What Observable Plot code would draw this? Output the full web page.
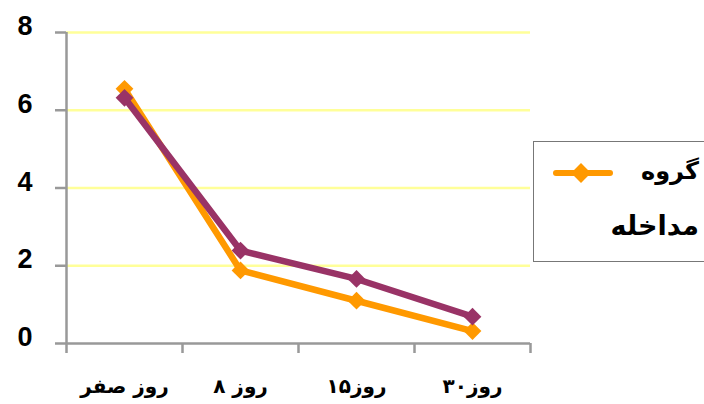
<!DOCTYPE html>
<html>
<head>
<meta charset="utf-8">
<script src="https://cdn.jsdelivr.net/npm/d3@7"></script>
<script src="https://cdn.jsdelivr.net/npm/@observablehq/plot@0.6"></script>
<style>
  html, body { margin: 0; padding: 0; background: #fff; }
  #wrap { position: relative; width: 704px; height: 404px; overflow: hidden; }
  #legend {
    position: absolute; left: 533px; top: 141px; width: 200px; height: 121px;
    border: 1px solid #777; box-sizing: border-box; background: #fff;
    font-family: "DejaVu Sans", sans-serif; font-weight: bold; color: #000;
  }
  #legend .swatch { position: absolute; left: 18px; top: 19px; }
  #legend .t1 { position: absolute; top: 14px; right: 33px; direction: rtl; line-height: 30px; font-size: 24px; }
  #legend .t2 { position: absolute; top: 68px; right: 33px; direction: rtl; line-height: 32px; font-size: 27px; }
</style>
</head>
<body>
<div id="wrap">
  <div id="chart"></div>
  <div id="legend">
    <svg class="swatch" width="62" height="24">
      <line x1="4" y1="12" x2="58" y2="12" stroke="#FF9900" stroke-width="6" stroke-linecap="round"/>
      <rect x="22" y="5" width="14" height="14" fill="#FF9900" transform="rotate(45 29 12)"/>
    </svg>
    <div class="t1">گروه</div>
    <div class="t2">مداخله</div>
  </div>
</div>
<script>
const categories = ["روز صفر", "روز ۸", "روز۱۵", "روز۳۰"];
const interventionValues = [6.55, 1.88, 1.1, 0.32];
const controlValues = [6.32, 2.39, 1.66, 0.69];
const yTicks = [0, 2, 4, 6, 8];

const orange = "#FF9900";
const purple = "#993366";
const axisGray = "#999999";

const interv = categories.map((c, i) => ({ pos: i + 0.5, value: interventionValues[i], label: c }));
const control = categories.map((c, i) => ({ pos: i + 0.5, value: controlValues[i], label: c }));
const edges = d3.range(categories.length + 1);

const chart = Plot.plot({
  width: 704,
  height: 404,
  marginLeft: 66,
  marginRight: 174,
  marginTop: 32,
  marginBottom: 61,
  style: { background: "#fff", overflow: "visible" },
  x: { type: "linear", domain: [0, categories.length], axis: null },
  y: { type: "linear", domain: [0, 8], axis: null },
  marks: [
    Plot.ruleY(yTicks.filter(t => t > 0), { y: d => d, stroke: "#FFFF99", strokeWidth: 2.5 }),
    // y axis
    Plot.ruleX([0], { x: d => d, stroke: axisGray, strokeWidth: 2.5 }),
    Plot.ruleY(yTicks, { y: d => d, x1: 0, x2: 0, insetLeft: -11, stroke: axisGray, strokeWidth: 2.5 }),
    Plot.text(yTicks, {
      x: 0, y: d => d, text: d => String(d), textAnchor: "end", dx: -34, dy: -6,
      fontSize: 27, fontWeight: "bold", fill: "#000", fontFamily: "Liberation Sans, Arial, sans-serif"
    }),
    // x axis
    Plot.ruleY([0], { y: d => d, stroke: axisGray, strokeWidth: 2.5 }),
    Plot.ruleX(edges, { x: d => d, y1: 0, y2: 0, insetBottom: -10, stroke: axisGray, strokeWidth: 2.5 }),
    Plot.text(interv, {
      x: "pos", y: 0, text: "label", dy: 43, fontSize: 20, fontWeight: "bold", fill: "#000",
      fontFamily: "DejaVu Sans, sans-serif"
    }),
    // series
    Plot.line(interv, { x: "pos", y: "value", stroke: orange, strokeWidth: 6.5 }),
    Plot.dot(interv, { x: "pos", y: "value", symbol: "diamond2", r: 8, fill: orange, stroke: "none" }),
    Plot.line(control, { x: "pos", y: "value", stroke: purple, strokeWidth: 6.5 }),
    Plot.dot(control, { x: "pos", y: "value", symbol: "diamond2", r: 8, fill: purple, stroke: "none" })
  ]
});
document.getElementById("chart").appendChild(chart);
</script>
</body>
</html>
